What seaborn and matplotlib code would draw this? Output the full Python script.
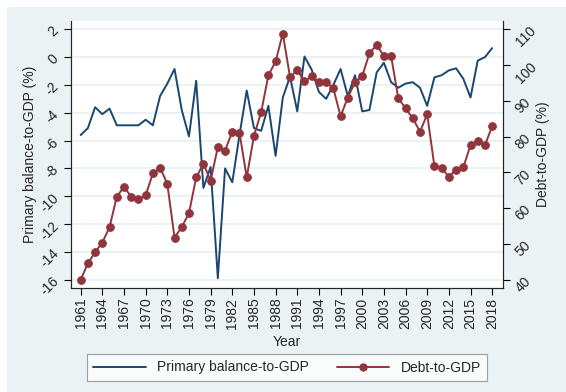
import numpy as np
import pandas as pd
import matplotlib
matplotlib.use("Agg")
import matplotlib.pyplot as plt
from matplotlib.patches import Rectangle
from matplotlib.lines import Line2D
import seaborn as sns

# DATA
years = list(range(1961, 2019))
primary_balance = [
    -5.6, -5.1, -3.6, -4.1, -3.7, -4.9, -4.9, -4.9, -4.9, -4.5,
    -4.9, -2.8, -1.9, -0.85, -3.8, -5.7, -1.7, -9.4, -7.9, -15.9,
    -8.0, -9.0, -5.6, -2.4, -5.1, -5.3, -3.5, -7.1, -2.9, -1.4,
    -3.9, 0.05, -0.9, -2.5, -3.0, -2.0, -0.85, -2.8, -1.3, -3.9,
    -3.8, -1.1, -0.4, -1.8, -2.2, -1.9, -1.8, -2.2, -3.5, -1.45,
    -1.3, -0.95, -0.8, -1.55, -2.9, -0.25, 0.0, 0.65,
]
debt = [
    40.0, 44.6, 47.7, 50.4, 54.7, 63.2, 66.0, 63.2, 62.5, 63.6,
    69.7, 71.3, 66.8, 51.8, 54.7, 58.6, 68.6, 72.4, 67.7, 77.1,
    76.1, 81.4, 81.1, 68.6, 80.2, 86.8, 97.1, 101.0, 108.8, 96.6,
    98.6, 95.4, 96.9, 95.2, 95.2, 93.5, 85.7, 90.9, 95.2, 96.9,
    103.3, 105.6, 102.5, 102.5, 90.7, 87.9, 85.1, 81.4, 86.2, 71.7,
    71.1, 68.8, 70.8, 71.4, 77.6, 78.9, 77.6, 82.9,
]
df = pd.DataFrame({"Year": years, "pb": primary_balance, "debt": debt})

navy = "#1A476F"
maroon = "#90353B"
bg = "#EAF2F3"

sns.set_style("ticks")
plt.rcParams["font.family"] = ["Liberation Sans", "DejaVu Sans"]
plt.rcParams["axes.unicode_minus"] = False

fig = plt.figure(figsize=(5.66, 3.92), dpi=100, facecolor="white")
fig.patches.append(Rectangle((7 / 566, 0), 1, 1 - 7 / 392, transform=fig.transFigure,
                             facecolor=bg, edgecolor="none", zorder=-10))

ax = fig.add_axes([71 / 566, 1 - 288 / 392, 432 / 566, 267 / 392])
ax.set_facecolor("white")
sns.lineplot(data=df, x="Year", y="pb", ax=ax, color=navy, linewidth=1.4, legend=False)
ax.set_xlim(1959.66, 2019.5)
ax.set_ylim(-16.6, 2.6)
ax.set_yticks(np.arange(-16, 3, 2))
ax.set_xticks(np.arange(1961, 2019, 3))
ax.grid(axis="y", color=bg, linewidth=1.5)
ax.set_axisbelow(True)
ax.tick_params(axis="x", labelrotation=90, labelsize=10, length=5, pad=2, color="black")
ax.tick_params(axis="y", labelrotation=45, labelsize=10, length=5, pad=2, color="black")
ax.set_xlabel("Year", fontsize=10)
ax.set_ylabel("Primary balance-to-GDP (%)", fontsize=10)
ax.xaxis.set_label_coords(0.5, -0.176)
ax.yaxis.set_label_coords(-0.079, 0.5)
ax.spines["top"].set_visible(False)

#DEBT AXIS
ax2 = ax.twinx()
sns.lineplot(data=df, x="Year", y="debt", ax=ax2, color=maroon, linewidth=1.4,
             marker="o", markersize=5.5, markeredgecolor=maroon, legend=False)
ax2.set_ylim(37.7, 112.3)
ax2.set_yticks(np.arange(40, 111, 10))
ax2.tick_params(axis="y", labelrotation=45, labelsize=10, length=5, pad=2, color="black")
ax2.set_ylabel("Debt-to-GDP (%)", fontsize=10)
ax2.yaxis.set_label_coords(1.076, 0.5)
ax2.spines["top"].set_visible(False)

handles = [
    Line2D([], [], color=navy, linewidth=1.4),
    Line2D([], [], color=maroon, linewidth=1.4, marker="o", markersize=5),
]
leg = fig.legend(handles, ["Primary balance-to-GDP", "Debt-to-GDP"], loc="center",
                 bbox_to_anchor=(287 / 566, 1 - 367.5 / 392), ncol=2, fontsize=10,
                 frameon=True, fancybox=False, handlelength=3.8, columnspacing=2.0,
                 borderpad=0.45)
leg.get_frame().set_edgecolor("#888888")
leg.get_frame().set_linewidth(0.8)

fig.savefig("out.png", dpi=100, facecolor=fig.get_facecolor())
